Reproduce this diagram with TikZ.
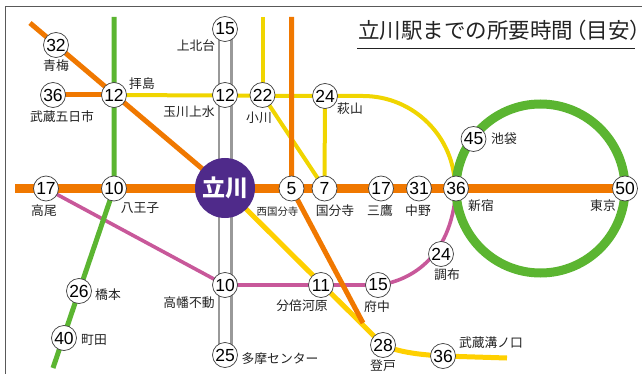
\documentclass[tikz,border=0pt]{standalone}
\usepackage{fontspec}
\usetikzlibrary{backgrounds}
\setmainfont{Noto Sans CJK JP}
\newfontfamily\numfont{Liberation Sans}
\newfontfamily\halffont[RawFeature=+halt]{Noto Sans CJK JP}
\definecolor{cOrange}{HTML}{F07800}
\definecolor{cGreen}{HTML}{5BB531}
\definecolor{cYellow}{HTML}{F0D500}
\definecolor{cGold}{HTML}{FFD000}
\definecolor{cPink}{HTML}{C8589A}
\definecolor{cPurple}{HTML}{4F2A8A}
\definecolor{cGray}{HTML}{999999}
\definecolor{cInk}{HTML}{222222}
\tikzset{
 st/.style={circle,draw=black!75,line width=0.7pt,fill=white,minimum size=25pt,inner sep=0pt,font=\numfont\fontsize{17.5}{17.5}\selectfont,text=black},
 lb/.style={inner sep=0pt,font=\fontsize{12.8}{12.8}\selectfont,text=cInk},
 lbs/.style={inner sep=0pt,font=\fontsize{10.4}{10.4}\selectfont,text=cInk},
 orange/.style={draw=cOrange,line width=5pt},
 mainline/.style={draw=cOrange,line width=9pt},
 green/.style={draw=cGreen,line width=5pt},
 ring/.style={draw=cGreen,line width=9pt},
 yellow/.style={draw=cYellow,line width=4pt},
 gold/.style={draw=cGold,line width=5pt},
 pink/.style={draw=cPink,line width=3.6pt},
 gray/.style={draw=cGray,line width=2.4pt},
}
\begin{document}
\begin{tikzpicture}[x=1pt,y=-1pt]
\useasboundingbox (0,0) rectangle (642,374);
% free line ends
\coordinate (oA) at (30,23);
\coordinate (oL) at (15,188.5);
\coordinate (gT) at (114,17);
\coordinate (gB) at (53,368);
\coordinate (yT) at (262.5,17);
\coordinate (oT) at (291.5,17);
\coordinate (oE) at (363,323);
\coordinate (gE) at (507,358);
% stations
\path
 node[st] (a32) at (56,45) {32}
 node[st] (a36) at (53,95) {36}
 node[st] (h12) at (114,95) {12}
 node[st] (k15) at (225,29) {15}
 node[st] (t12) at (225,95) {12}
 node[st] (o22) at (262.5,95) {22}
 node[st] (s24) at (325,96) {24}
 node[st] (t17) at (46,188.5) {17}
 node[st] (h10) at (114,188.5) {10}
 node[st] (n5) at (291.5,188.5) {5}
 node[st] (k7) at (324.5,188.5) {7}
 node[st] (m17) at (381,188.5) {17}
 node[st] (n31) at (419,188.5) {31}
 node[st] (s36) at (456,188.5) {36}
 node[st] (e50) at (625,188.5) {50}
 node[st] (i45) at (473.5,139) {45}
 node[st] (c24) at (441,254) {24}
 node[st] (f15) at (378,285) {15}
 node[st] (b11) at (321,285) {11}
 node[st] (f10) at (225,285) {10}
 node[st] (h26) at (79,291) {26}
 node[st] (m40) at (64,338) {40}
 node[st] (c25) at (225,355) {25}
 node[st] (n28) at (383,345) {28}
 node[st] (m36) at (443,356) {36};
\node[circle,fill=cPurple,minimum size=60pt,inner sep=0pt,text=white,font=\fontsize{23}{23}\selectfont\bfseries] (tc) at (225,188) {立川};
% labels
\path
 node[lb] (l1) at (56,66) {青梅}
 node[lb] (l2) at (62,117) {武蔵五日市}
 node[lb] (l3) at (142,84) {拝島}
 node[lb] (l4) at (196,46) {上北台}
 node[lb] (l5) at (189,111.5) {玉川上水}
 node[lb] (l6) at (259,118) {小川}
 node[lb] (l7) at (350,109) {萩山}
 node[lb] (l8) at (504,139) {池袋}
 node[lb] (l9) at (44,211) {高尾}
 node[lb] (l10) at (140,208) {八王子}
 node[lbs] (l11) at (277.5,211.5) {西国分寺}
 node[lb] (l12) at (335,211) {国分寺}
 node[lb] (l13) at (380,211) {三鷹}
 node[lb] (l14) at (418,211) {中野}
 node[lb] (l15) at (481,206) {新宿}
 node[lb] (l16) at (603,206) {東京}
 node[lb] (l17) at (447,275) {調布}
 node[lb] (l18) at (377,307) {府中}
 node[lb] (l19) at (383,366) {登戸}
 node[lb] (l20) at (491,343) {武蔵溝ノ口}
 node[lb] (l21) at (108,295) {橋本}
 node[lb] (l22) at (94,340) {町田}
 node[lb] (l23) at (189,303) {高幡不動}
 node[lb] (l24) at (280,359) {多摩センター}
 node[lb] (l25) at (302,306) {分倍河原};
\node[anchor=west,inner sep=0pt,font=\fontsize{21.5}{21.5}\selectfont,text=cInk] (title) at (358,30) {立川駅までの所要時間\hspace{3pt}{\halffont（}目安{\halffont ）}};
\coordinate (uL) at (357,48);
\coordinate (uR) at (635,48);
\draw[cInk,line width=0.9pt] (uL) -- (uR);
\begin{scope}[on background layer]
 \draw[black!65,line width=1.2pt] (5.5,374) -- (5.5,6.5) -- (642,6.5);
 % gray double line
 \draw[gray] ([xshift=-6.3pt]k15.center) -- ([xshift=-6.3pt]c25.center);
 \draw[gray] ([xshift=6.3pt]k15.center) -- ([xshift=6.3pt]c25.center);
 % pink
 \draw[pink] (t17.center) -- (f10.center) -- (f15.center)
   .. controls (405,282) and (452,262) .. (s36.center);
 % yellow
 \draw[yellow] (yT) -- (o22.center);
 \draw[yellow] (h12.center) -- (s24.center) -- ++(38,0) arc[start angle=-90,end angle=0,radius=92];
 \draw[yellow] (o22.center) -- (k7.center);
 \draw[yellow] (s24.center) -- (k7.center);
 % gold
 \draw[gold] (tc.center) -- (n28.center);
 % orange
 \draw[orange] (oA) -- (tc.center);
 \draw[orange] (a36.center) -- (h12.center);
 \draw[orange] (oT) -- (n5.center) -- (oE);
 \draw[gold] (n28.center) .. controls (400,353) and (425,355) .. (m36.center) -- (gE);
 % green
 \draw[green] (gT) -- (h10.center) -- (gB);
 % ring
 \draw[ring] (s36.center) arc[start angle=180,delta angle=360,radius=84.5];
 % main line
 \draw[mainline] (oL) -- (e50.center);
\end{scope}
\end{tikzpicture}
\end{document}
